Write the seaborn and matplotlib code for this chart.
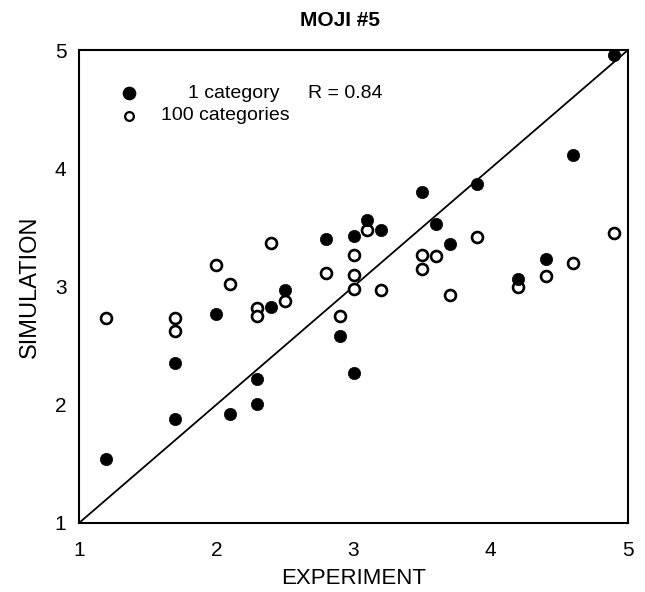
import matplotlib
matplotlib.use("Agg")
import matplotlib.pyplot as plt
import seaborn as sns
import pandas as pd

# ---- data ----
one_cat_x = [1.2, 1.7, 1.7, 2.0, 2.1, 2.3, 2.3, 2.4, 2.5, 2.8, 2.9, 3.0, 3.0,
             3.1, 3.2, 3.5, 3.6, 3.7, 3.9, 4.2, 4.4, 4.6, 4.9]
one_cat_y = [1.54, 2.35, 1.88, 2.77, 1.92, 2.22, 2.01, 2.83, 2.97, 3.40, 2.58, 3.43, 2.27,
             3.56, 3.48, 3.80, 3.53, 3.36, 3.87, 3.06, 3.23, 4.11, 4.96]

hundred_cat_x = [1.2, 1.7, 1.7, 2.0, 2.1, 2.3, 2.3, 2.4, 2.5, 2.8, 2.9, 3.0, 3.0, 3.0,
                 3.1, 3.2, 3.5, 3.5, 3.6, 3.7, 3.9, 4.2, 4.4, 4.6, 4.9]
hundred_cat_y = [2.73, 2.73, 2.62, 3.18, 3.02, 2.82, 2.75, 3.37, 2.88, 3.11, 2.75, 3.27, 3.10, 2.98,
                 3.48, 2.97, 3.27, 3.15, 3.26, 2.93, 3.42, 3.00, 3.09, 3.20, 3.45]

axis_range = [1, 5]
ticks = [1, 2, 3, 4, 5]
title = "MOJI #5"
xlabel = "EXPERIMENT"
ylabel = "SIMULATION"
legend_labels = ["1 category", "100 categories"]
r_text = "R = 0.84"

df1 = pd.DataFrame({"x": one_cat_x, "y": one_cat_y})
df2 = pd.DataFrame({"x": hundred_cat_x, "y": hundred_cat_y})

sns.set_style("white")
plt.rcParams["font.family"] = ["Liberation Sans", "DejaVu Sans"]
plt.rcParams["text.color"] = "black"
plt.rcParams["axes.labelcolor"] = "black"
plt.rcParams["xtick.color"] = "black"
plt.rcParams["ytick.color"] = "black"

fig = plt.figure(figsize=(6.45, 5.92), dpi=100)
ax = fig.add_axes([79 / 645, 1 - 523 / 592, (628 - 79) / 645, (523 - 50) / 592])

# identity line
ax.plot(axis_range, axis_range, color="black", lw=1.3, zorder=1)

sns.scatterplot(data=df2, x="x", y="y", ax=ax, marker="o", s=62,
                facecolor="white", edgecolor="black", linewidth=1.9, zorder=2)
sns.scatterplot(data=df1, x="x", y="y", ax=ax, marker="o", s=78,
                color="black", edgecolor="black", linewidth=0.5, zorder=3)

ax.set_xlim(axis_range)
ax.set_ylim(axis_range)
ax.set_xticks(ticks)
ax.set_yticks(ticks)
ax.set_xticklabels([str(t) for t in ticks], fontsize=15)
ax.set_yticklabels([str(t) for t in ticks], fontsize=15)
ax.tick_params(axis="x", direction="in", length=7, width=1.3, pad=13)
ax.tick_params(axis="y", direction="out", length=6, width=1.3, pad=3)
for t in (ax.yaxis.get_major_ticks()[0], ax.yaxis.get_major_ticks()[-1]):
    t.tick1line.set_visible(False)

for s in ax.spines.values():
    s.set_visible(True)
    s.set_color("black")
    s.set_linewidth(1.5)

ax.set_xlabel(xlabel, fontsize=16, labelpad=6)
ax.set_ylabel(ylabel, fontsize=17, labelpad=10)
ax.set_title(title, fontsize=15, fontweight="bold", x=0.475, pad=17)

# legend (drawn in axes coordinates)
lx = (129 - 79) / 549
ly1 = 1 - (93 - 50) / 473
ly2 = 1 - (116 - 50) / 473
ax.scatter([lx], [ly1], transform=ax.transAxes, s=78, color="black", zorder=4, clip_on=False)
ax.scatter([lx], [ly2], transform=ax.transAxes, s=40, facecolor="white",
           edgecolor="black", linewidth=1.6, zorder=4, clip_on=False)
ax.text((188 - 79) / 549, ly1, legend_labels[0], transform=ax.transAxes,
        fontsize=14, va="center", ha="left")
ax.text((161 - 79) / 549, ly2, legend_labels[1], transform=ax.transAxes,
        fontsize=14, va="center", ha="left")
ax.text((308 - 79) / 549, ly1, r_text, transform=ax.transAxes,
        fontsize=14, va="center", ha="left")

fig.savefig("out.png", dpi=100)
